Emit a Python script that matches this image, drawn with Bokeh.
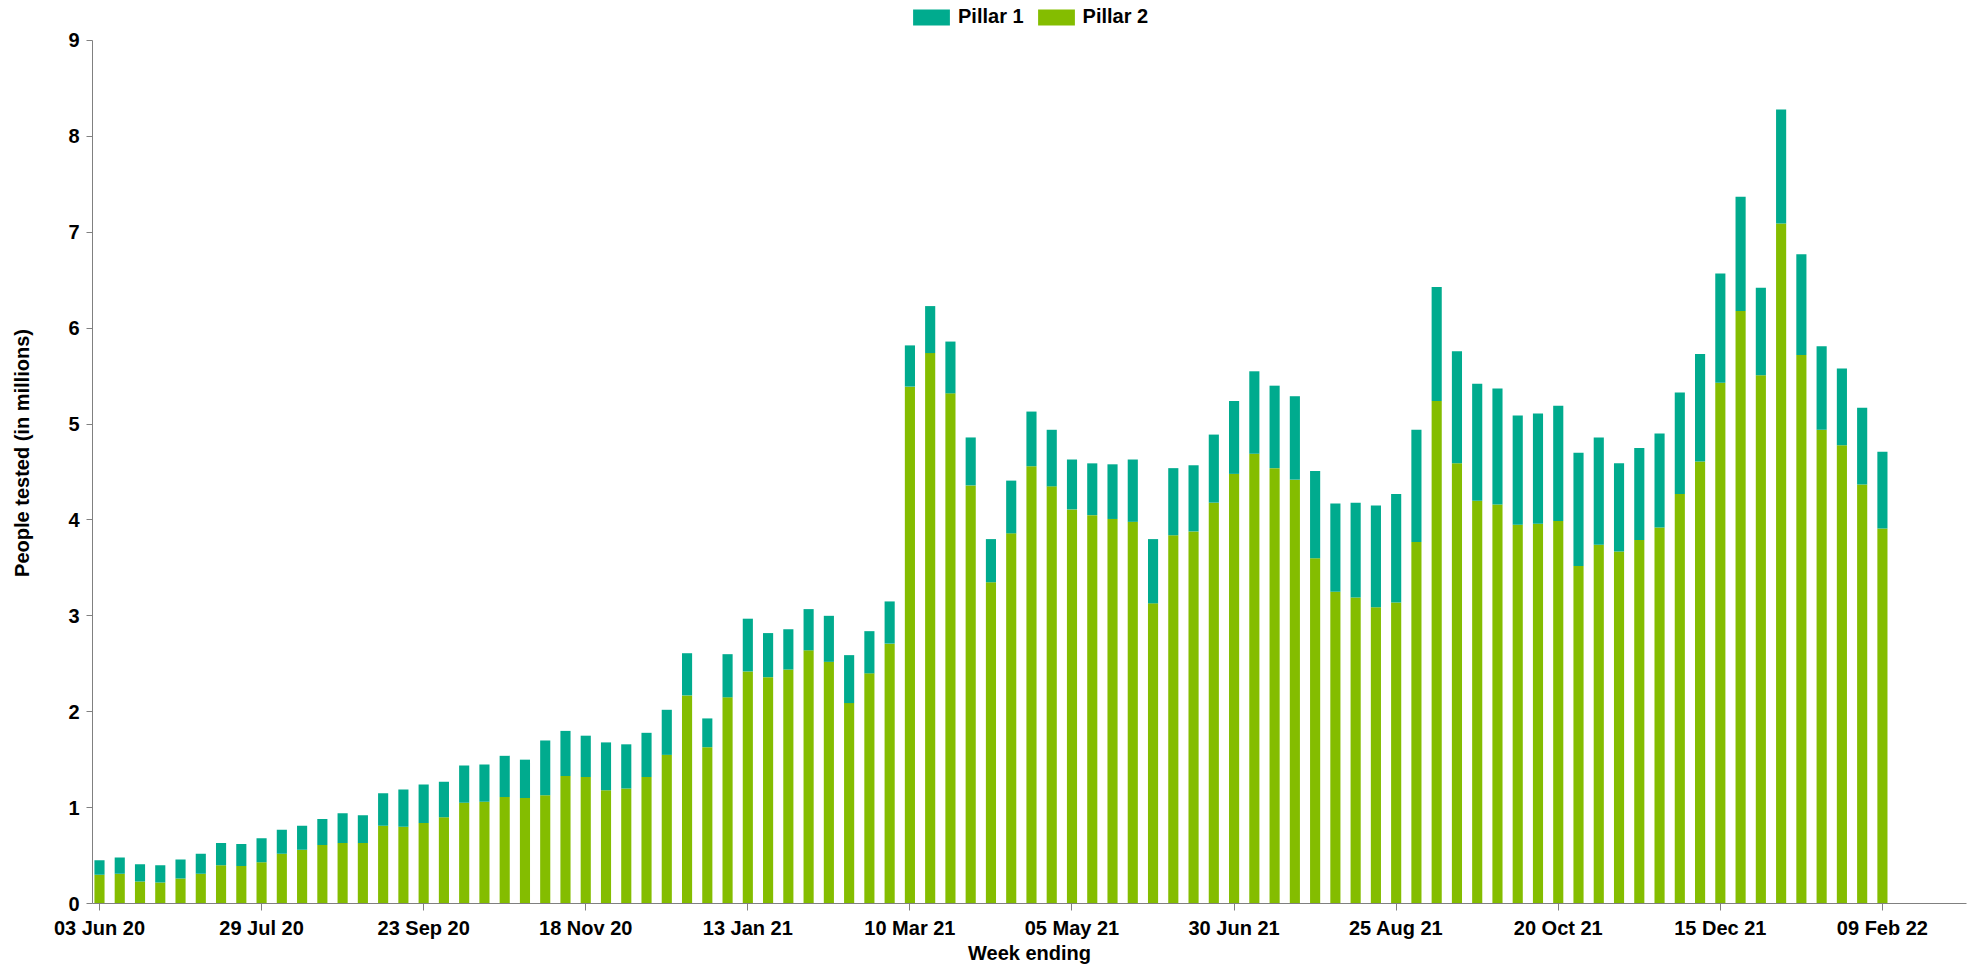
from bokeh.plotting import figure
from bokeh.models import (ColumnDataSource, Range1d, FixedTicker, Legend, LegendItem)
from bokeh.embed import file_html
from bokeh.resources import INLINE

# Weekly people tested (millions), week ending 03 Jun 20 ... 09 Feb 22
pillar2 = [0.30, 0.31, 0.23, 0.22, 0.26, 0.31, 0.40, 0.39, 0.43, 0.52,
           0.56, 0.61, 0.63, 0.63, 0.81, 0.80, 0.84, 0.90, 1.05, 1.06,
           1.11, 1.10, 1.13, 1.33, 1.32, 1.18, 1.20, 1.32, 1.55, 2.17,
           1.63, 2.15, 2.42, 2.36, 2.44, 2.64, 2.52, 2.09, 2.40, 2.71,
           5.39, 5.74, 5.32, 4.36, 3.35, 3.86, 4.56, 4.35, 4.11, 4.05,
           4.01, 3.98, 3.13, 3.84, 3.88, 4.18, 4.48, 4.69, 4.54, 4.42,
           3.60, 3.25, 3.19, 3.09, 3.14, 3.77, 5.24, 4.59, 4.20, 4.16,
           3.95, 3.96, 3.99, 3.52, 3.74, 3.67, 3.79, 3.92, 4.27, 4.61,
           5.43, 6.18, 5.51, 7.09, 5.72, 4.94, 4.78, 4.37, 3.91]
pillar1 = [0.15, 0.17, 0.18, 0.18, 0.20, 0.21, 0.23, 0.23, 0.25, 0.25,
           0.25, 0.27, 0.31, 0.29, 0.34, 0.39, 0.40, 0.37, 0.39, 0.39,
           0.43, 0.40, 0.57, 0.47, 0.43, 0.50, 0.46, 0.46, 0.47, 0.44,
           0.30, 0.45, 0.55, 0.46, 0.42, 0.43, 0.48, 0.50, 0.44, 0.44,
           0.43, 0.49, 0.54, 0.50, 0.45, 0.55, 0.57, 0.59, 0.52, 0.54,
           0.57, 0.65, 0.67, 0.70, 0.69, 0.71, 0.76, 0.86, 0.86, 0.87,
           0.91, 0.92, 0.99, 1.06, 1.13, 1.17, 1.19, 1.17, 1.22, 1.21,
           1.14, 1.15, 1.20, 1.18, 1.12, 0.92, 0.96, 0.98, 1.06, 1.12,
           1.14, 1.19, 0.91, 1.19, 1.05, 0.87, 0.80, 0.80, 0.80]
week_index = list(range(len(pillar2)))
tick_labels = ["03 Jun 20", "29 Jul 20", "23 Sep 20", "18 Nov 20", "13 Jan 21",
               "10 Mar 21", "05 May 21", "30 Jun 21", "25 Aug 21", "20 Oct 21",
               "15 Dec 21", "09 Feb 22"]
tick_positions = [i * 8 for i in range(len(tick_labels))]
y_ticks = list(range(10))
series_names = ["Pillar 1", "Pillar 2"]
series_colors = ["#00ab8e", "#84bd00"]

FONT = "Liberation Sans"

src = ColumnDataSource(dict(x=week_index, p2=pillar2, p1=pillar1))

# frame spans page y 2..904 (902 px); 96 px per million
p = figure(width=1972, height=966, output_backend="svg", toolbar_location=None,
           x_range=Range1d(-0.345, 92.15), y_range=Range1d(0, 902 / 96),
           min_border_left=92, min_border_right=6, min_border_top=2,
           min_border_bottom=62)
p.outline_line_color = None
p.xgrid.visible = False
p.ygrid.visible = False

r = p.vbar_stack(["p2", "p1"], x="x", width=0.5, source=src,
                 color=[series_colors[1], series_colors[0]], line_color=None)

# axes
p.xaxis.ticker = FixedTicker(ticks=tick_positions)
p.xaxis.major_label_overrides = {pos: lab for pos, lab in zip(tick_positions, tick_labels)}
p.xaxis.minor_tick_line_color = None
p.xaxis.major_tick_in = 0
p.xaxis.major_tick_out = 7
p.xaxis.major_label_standoff = 6
p.xaxis.axis_label = "Week ending"
p.xaxis.axis_label_standoff = 0

p.yaxis.ticker = FixedTicker(ticks=y_ticks)
p.yaxis.bounds = (0, 9)
p.yaxis.minor_tick_line_color = None
p.yaxis.major_tick_in = 0
p.yaxis.major_tick_out = 6
p.yaxis.major_label_standoff = 7
p.yaxis.axis_label = "People tested (in millions)"
p.yaxis.axis_label_standoff = 32

for ax in (p.xaxis[0], p.yaxis[0]):
    ax.axis_line_color = "#808080"
    ax.major_tick_line_color = "#808080"
    ax.major_label_text_font = FONT
    ax.major_label_text_font_size = "20px"
    ax.major_label_text_font_style = "bold"
    ax.major_label_text_color = "black"
    ax.axis_label_text_font = FONT
    ax.axis_label_text_font_size = "20px"
    ax.axis_label_text_font_style = "bold"
    ax.axis_label_text_color = "black"

legend = Legend(items=[LegendItem(label=series_names[0], renderers=[r[1]]),
                       LegendItem(label=series_names[1], renderers=[r[0]])],
                location=(816, 875), orientation="horizontal",
                padding=0, margin=0, spacing=9, label_standoff=4,
                glyph_width=46, glyph_height=20, label_height=20,
                label_text_font=FONT, label_text_font_size="20px",
                label_text_font_style="bold", label_text_color="black",
                border_line_color=None, background_fill_alpha=0)
p.add_layout(legend)

open("out.html", "w").write(file_html(p, INLINE))
